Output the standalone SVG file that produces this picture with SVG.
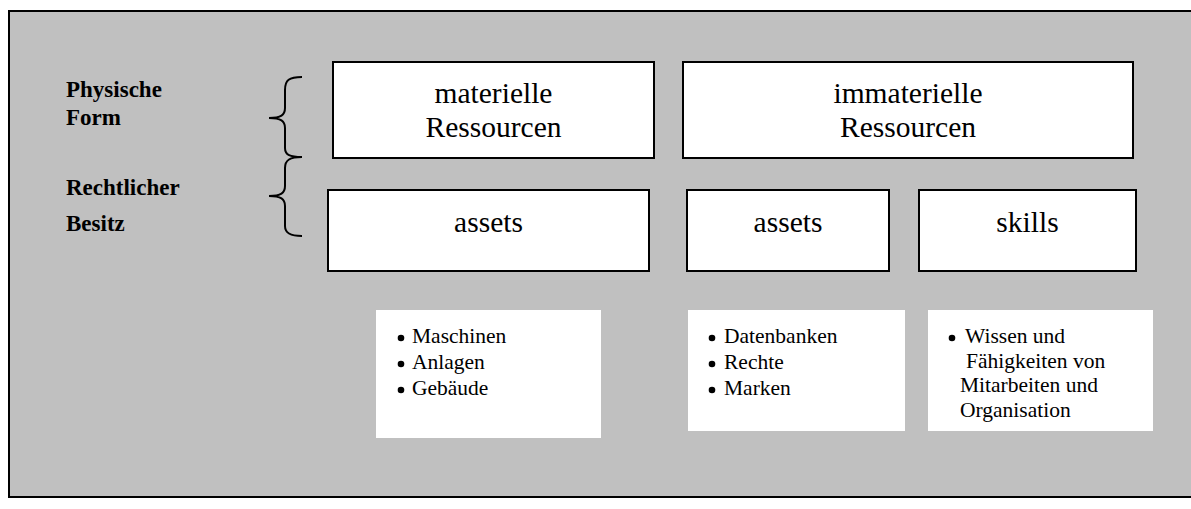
<svg xmlns="http://www.w3.org/2000/svg" width="1191" height="509" viewBox="0 0 1191 509">
  <style>
    .frame { fill: #c0c0c0; stroke: #000; stroke-width: 2; }
    .box { fill: #fff; stroke: #000; stroke-width: 2; }
    .list { fill: #fff; stroke: none; }
    .label { font-family: "Liberation Serif", "Times New Roman", serif; font-weight: bold; font-size: 23px; fill: #000; }
    .title { font-family: "Liberation Serif", "Times New Roman", serif; font-size: 29.5px; fill: #000; text-anchor: middle; }
    .item { font-family: "Liberation Serif", "Times New Roman", serif; font-size: 21.5px; fill: #000; }
    .brace { fill: none; stroke: #000; stroke-width: 2; }
    .dot { fill: #000; }
  </style>

  <!-- background panel -->
  <rect class="frame" x="9" y="11" width="1200" height="486"/>

  <!-- row labels -->
  <g id="label-physisch">
    <text class="label" x="66" y="97">Physische</text>
    <text class="label" x="66" y="125">Form</text>
  </g>
  <g id="label-rechtlich">
    <text class="label" x="66" y="195">Rechtlicher</text>
    <text class="label" x="66" y="231">Besitz</text>
  </g>

  <!-- curly braces -->
  <g id="connectors">
    <path class="brace" d="M302,77 C289,77 285,80 285,90 L285,108 C285,115 281,118 269,118 C281,118 285,121 285,128 L285,148 C285,155 290,157 302,157"/>
    <path class="brace" d="M302,157 C290,157 285,160 285,168 L285,186 C285,193 281,196 269,196 C281,196 285,199 285,206 L285,226 C285,233 290,236 302,236"/>
  </g>

  <!-- top row -->
  <g id="materielle">
    <rect class="box" x="333" y="62" width="321" height="96"/>
    <text class="title" x="493.5" y="103">materielle</text>
    <text class="title" x="493.5" y="137">Ressourcen</text>
  </g>
  <g id="immaterielle">
    <rect class="box" x="683" y="62" width="450" height="96"/>
    <text class="title" x="908" y="103">immaterielle</text>
    <text class="title" x="908" y="137">Ressourcen</text>
  </g>

  <!-- second row -->
  <g id="assets-materiell">
    <rect class="box" x="328" y="190" width="321" height="81"/>
    <text class="title" x="488.5" y="232">assets</text>
  </g>
  <g id="assets-immateriell">
    <rect class="box" x="687" y="190" width="202" height="81"/>
    <text class="title" x="788" y="232">assets</text>
  </g>
  <g id="skills">
    <rect class="box" x="919" y="190" width="217" height="81"/>
    <text class="title" x="1027.5" y="232">skills</text>
  </g>

  <!-- example lists -->
  <g id="list-materiell">
    <rect class="list" x="376" y="310" width="225" height="128"/>
    <circle class="dot" cx="401" cy="338" r="3.3"/>
    <circle class="dot" cx="401" cy="364" r="3.3"/>
    <circle class="dot" cx="401" cy="390" r="3.3"/>
    <text class="item" x="412" y="343">Maschinen</text>
    <text class="item" x="412" y="369">Anlagen</text>
    <text class="item" x="412" y="395">Gebäude</text>
  </g>
  <g id="list-immateriell">
    <rect class="list" x="688" y="310" width="217" height="121"/>
    <circle class="dot" cx="712" cy="338" r="3.3"/>
    <circle class="dot" cx="712" cy="364" r="3.3"/>
    <circle class="dot" cx="712" cy="390" r="3.3"/>
    <text class="item" x="724" y="343">Datenbanken</text>
    <text class="item" x="724" y="369">Rechte</text>
    <text class="item" x="724" y="395">Marken</text>
  </g>
  <g id="list-skills">
    <rect class="list" x="928" y="310" width="225" height="121"/>
    <circle class="dot" cx="952" cy="338" r="3.3"/>
    <text class="item" x="965" y="343">Wissen und</text>
    <text class="item" x="966" y="368">Fähigkeiten von</text>
    <text class="item" x="960" y="392">Mitarbeiten und</text>
    <text class="item" x="960" y="417">Organisation</text>
  </g>
</svg>
